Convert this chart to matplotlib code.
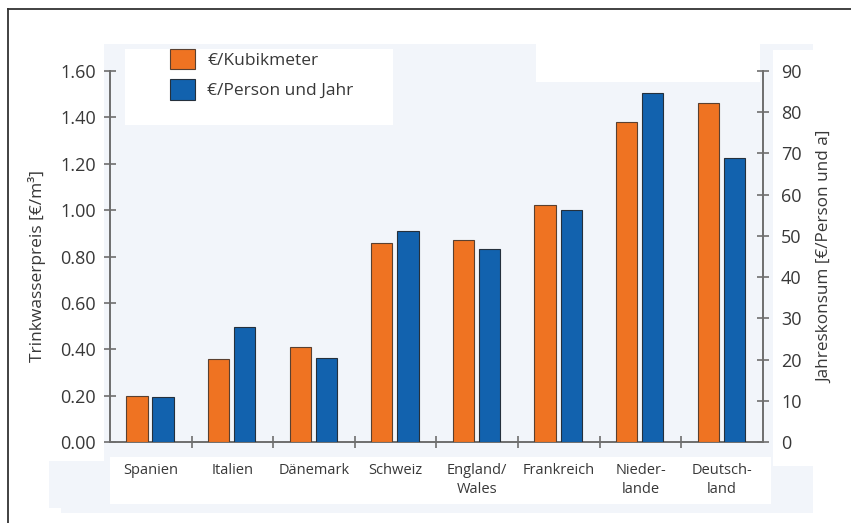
import numpy as np
import matplotlib
matplotlib.use("Agg")
import matplotlib.pyplot as plt
from matplotlib.patches import Rectangle
from matplotlib.lines import Line2D

plt.rcParams['font.family'] = ['Open Sans', 'DejaVu Sans']

# data
laender = ["Spanien", "Italien", "Dänemark", "Schweiz", "England/\nWales",
           "Frankreich", "Nieder-\nlande", "Deutsch-\nland"]
preis_m3 = [0.20, 0.36, 0.41, 0.86, 0.87, 1.02, 1.38, 1.46]
preis_person = [10.8, 28.0, 20.4, 51.2, 46.8, 56.4, 84.7, 68.9]
left_ticks = [0.0, 0.2, 0.4, 0.6, 0.8, 1.0, 1.2, 1.4, 1.6]
right_ticks = [0, 10, 20, 30, 40, 50, 60, 70, 80, 90]

orange = '#ef7322'
blue = '#1262ae'
bg = '#f2f5fa'
spine_col = '#6e6e6e'
txt = '#383838'

W, H = 851, 523
fig = plt.figure(figsize=(W / 100, H / 100), dpi=100)

def px_rect(x0, y0, x1, y1, color):
    # rectangle given in pixel coords (origin top-left)
    fig.patches.append(Rectangle((x0 / W, 1 - y1 / H), (x1 - x0) / W, (y1 - y0) / H,
                                 transform=fig.transFigure, facecolor=color,
                                 edgecolor='none', zorder=-10))

# scanned background pieces
px_rect(104, 44, 813, 513, bg)
px_rect(125, 49, 393, 125, 'white')
px_rect(536, 44, 760, 82, 'white')
px_rect(773, 50, 813, 466, 'white')
px_rect(110, 457, 771, 504, 'white')
px_rect(49, 461, 104, 508, bg)
px_rect(61, 508, 104, 513, bg)

# frame
fig.lines.append(Line2D([8 / W, 8 / W], [0, 1 - 9 / H], transform=fig.transFigure,
                        color='#333333', lw=1.3))
fig.lines.append(Line2D([8 / W, 1], [1 - 9 / H, 1 - 9 / H], transform=fig.transFigure,
                        color='#333333', lw=1.3))

ax_l, ax_r, ax_t, ax_b = 110, 763, 71, 442
ax = fig.add_axes([ax_l / W, 1 - ax_b / H, (ax_r - ax_l) / W, (ax_b - ax_t) / H])
ax.set_facecolor('none')
ax2 = ax.twinx()
ax2.set_facecolor('none')

x = np.arange(len(laender))
bw = 0.26
b1 = ax.bar(x - 0.17, preis_m3, bw, color=orange, edgecolor='#5a4030', linewidth=0.8,
            label='€/Kubikmeter', zorder=3)
b2 = ax2.bar(x + 0.15, preis_person, bw, color=blue, edgecolor='#25303c', linewidth=0.8,
             label='€/Person und Jahr', zorder=3)

ax.set_xlim(-0.5, len(laender) - 0.5)
ax.set_ylim(0, 1.6)
ax2.set_ylim(0, 90)

for a in (ax, ax2):
    for s in a.spines.values():
        s.set_color(spine_col)
        s.set_linewidth(1.4)
    a.spines['top'].set_visible(False)
ax.spines['right'].set_visible(False)
ax2.spines['left'].set_visible(False)
ax2.spines['bottom'].set_visible(False)

ax.set_yticks(left_ticks)
ax.set_yticklabels([f"{v:.2f}" for v in left_ticks])
ax2.set_yticks(right_ticks)
ax.tick_params(axis='y', direction='inout', length=8, width=1.2, color=spine_col,
               labelsize=13, labelcolor=txt, pad=6)
ax2.tick_params(axis='y', direction='inout', length=8, width=1.2, color=spine_col,
                labelsize=13, labelcolor=txt, pad=9)

ax.set_xticks(x)
ax.set_xticklabels(laender, fontsize=10.5, color=txt, linespacing=1.35)
ax.set_xticks(np.arange(0.5, len(laender) - 0.5, 1), minor=True)
ax.tick_params(axis='x', which='major', length=0, pad=15)
ax.tick_params(axis='x', which='minor', direction='inout', length=8, width=1.2,
               color=spine_col)

ax.set_ylabel('Trinkwasserpreis [€/m³]', fontsize=12.5, color=txt)
ax2.set_ylabel('Jahreskonsum [€/Person und a]', fontsize=12.3, color=txt, labelpad=11)
ax.yaxis.set_label_coords(-0.098, 0.475)

leg = ax.legend([b1, b2], ['€/Kubikmeter', '€/Person und Jahr'], loc='upper left',
                bbox_to_anchor=((170 - ax_l) / (ax_r - ax_l), (ax_b - 49) / (ax_b - ax_t)),
                frameon=False, fontsize=12.5, handlelength=1.45, handleheight=1.4,
                handletextpad=0.7, labelspacing=0.6, borderpad=0, borderaxespad=0)
for t in leg.get_texts():
    t.set_color(txt)

fig.savefig('out.png', dpi=100)
